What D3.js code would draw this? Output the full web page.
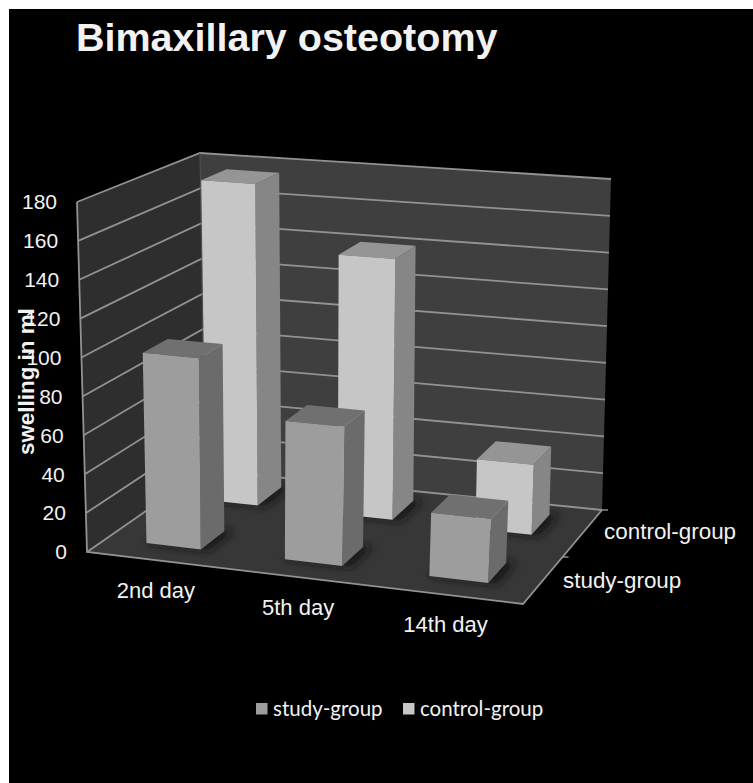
<!DOCTYPE html>
<html>
<head>
<meta charset="utf-8">
<title>Bimaxillary osteotomy</title>
<script src="https://cdn.jsdelivr.net/npm/d3@7"></script>
<style>
  html, body { margin: 0; padding: 0; background: #fff; }
  svg { display: block; }
  text { fill: #f2f2f2; font-family: "Liberation Sans", Arial, sans-serif; }
</style>
</head>
<body>
<script>
// values
var days = ["2nd day", "5th day", "14th day"];
var groups = ["study-group", "control-group"];
var studyValues = [99, 71, 32];
var controlValues = [175, 140, 37];
var yTicks = [0, 20, 40, 60, 80, 100, 120, 140, 160, 180];

var width = 753, height = 783;

var svg = d3.select("body").append("svg").attr("width", width).attr("height", height);

// black slide on a white page
svg.append("rect").attr("x", 9).attr("y", 9).attr("width", width - 9).attr("height", height - 9).attr("fill", "#000");

// corners of the 3d box on screen: f/b = front/back, l/r = left/right, 0/1 = floor/top
var box = {
  fl0: [87, 552], fr0: [523, 604], bl0: [205, 470], br0: [602, 510],
  fl1: [77, 202], fr1: [541, 239], bl1: [200, 153], br1: [611, 179]
};

function mix(a, b, t) { return [a[0] + (b[0] - a[0]) * t, a[1] + (b[1] - a[1]) * t]; }

// bars get a little wider apart to the right, the camera stands closer there
var uWarp = d3.scalePow().exponent(1.05).domain([0, 1]).range([0, 1]);

// u goes along the days, v into the depth, w upwards, all 0..1
function project(u, v, w) {
  var t = uWarp(u);
  var floor = mix(mix(box.fl0, box.fr0, t), mix(box.bl0, box.br0, t), v);
  var top = mix(mix(box.fl1, box.fr1, t), mix(box.bl1, box.br1, t), v);
  return mix(floor, top, w);
}

var xBand = d3.scaleBand().domain(days).range([0, 1]).paddingInner(0.599).paddingOuter(0.32).align(0.495);
var zBand = d3.scaleBand().domain(groups).range([0, 1]).paddingInner(0.587).paddingOuter(0.255).align(0.623);
var yScale = d3.scaleLinear().domain([0, 180]).range([0, 1]);

var line = d3.line();
function poly(points) { return line(points) + "Z"; }

var defs = svg.append("defs");
defs.append("filter").attr("id", "soft").attr("x", "-30%").attr("y", "-30%").attr("width", "160%").attr("height", "160%")
  .append("feGaussianBlur").attr("stdDeviation", 4);
defs.append("clipPath").attr("id", "floorClip").append("path")
  .attr("d", poly([box.fl0, box.fr0, box.br0, box.bl0]));

var chart = svg.append("g");

// walls and floor
chart.append("path").attr("d", poly([box.bl0, box.br0, box.br1, box.bl1])).attr("fill", "#3f3f3f");
chart.append("path").attr("d", poly([box.fl0, box.bl0, box.bl1, box.fl1])).attr("fill", "#2e2e2e");
chart.append("path").attr("d", poly([box.fl0, box.fr0, box.br0, box.bl0])).attr("fill", "#373737");

// gridlines: along the left wall and the back wall
var gridColor = "#929292";
chart.selectAll(".grid").data(yTicks).enter().append("path")
  .attr("class", "grid")
  .attr("d", function(d) {
    var w = yScale(d);
    return line([project(0, 0, w), project(0, 1, w), project(1, 1, w)]);
  })
  .attr("fill", "none").attr("stroke", gridColor).attr("stroke-width", 1.8);

// box edges
chart.append("path").attr("d", line([box.fl1, box.fl0, box.fr0, box.br0]))
  .attr("fill", "none").attr("stroke", gridColor).attr("stroke-width", 1.8);
chart.append("path").attr("d", line([box.bl0, box.bl1]))
  .attr("fill", "none").attr("stroke", "#555").attr("stroke-width", 1);

// little ticks on the depth axis
chart.selectAll(".ztick").data([0.5, 1]).enter().append("path")
  .attr("class", "ztick")
  .attr("d", function(d) {
    var p = project(1, d, 0);
    return line([p, [p[0] + 6, p[1]]]);
  })
  .attr("stroke", gridColor).attr("stroke-width", 1.4);

// one row of bars per group, back row first
var colors = {
  "study-group": { front: "#9d9d9d", top: "#707070", side: "#6b6b6b" },
  "control-group": { front: "#c6c6c6", top: "#959595", side: "#868686" }
};
var rows = [
  { group: "control-group", values: controlValues },
  { group: "study-group", values: studyValues }
];

rows.forEach(function(row) {
  var c = colors[row.group];
  var v0 = zBand(row.group), v1 = v0 + zBand.bandwidth();

  row.values.forEach(function(value, i) {
    var u0 = xBand(days[i]), u1 = u0 + xBand.bandwidth();
    var w = yScale(value);
    var g = chart.append("g").attr("class", "bar");

    // shadow on the floor
    chart.insert("g", ".bar").attr("clip-path", "url(#floorClip)").append("path")
      .attr("d", poly([project(u0, v0, 0), project(u1 + 0.02, v0, 0),
                       project(u1 + 0.02, v1 + 0.01, 0), project(u0, v1 + 0.01, 0)]))
      .attr("fill", "#161616").attr("filter", "url(#soft)");

    g.append("path").attr("fill", c.side)
      .attr("d", poly([project(u1, v0, 0), project(u1, v1, 0), project(u1, v1, w), project(u1, v0, w)]));
    g.append("path").attr("fill", c.top)
      .attr("d", poly([project(u0, v0, w), project(u1, v0, w), project(u1, v1, w), project(u0, v1, w)]));
    g.append("path").attr("fill", c.front)
      .attr("d", poly([project(u0, v0, 0), project(u1, v0, 0), project(u1, v0, w), project(u0, v0, w)]));
  });
});

// y tick labels follow the slanted front edge
svg.selectAll(".ytick").data(yTicks).enter().append("text")
  .attr("class", "ytick")
  .attr("x", function(d) { return project(0, 0, yScale(d))[0] - 20; })
  .attr("y", function(d) { return project(0, 0, yScale(d))[1]; })
  .attr("dy", "0.35em")
  .attr("text-anchor", "end")
  .attr("font-size", 21)
  .text(function(d) { return d; });

// day labels hang under the front edge
svg.selectAll(".day").data(days).enter().append("text")
  .attr("class", "day")
  .attr("x", function(d) { return project(xBand(d) + xBand.bandwidth() / 2, 0, 0)[0] + 1; })
  .attr("y", function(d) { return project(xBand(d) + xBand.bandwidth() / 2, 0, 0)[1] + 30; })
  .attr("dy", "0.35em")
  .attr("text-anchor", "middle")
  .attr("font-size", 22)
  .text(function(d) { return d; });

// group labels next to the right floor edge
svg.selectAll(".group").data(groups).enter().append("text")
  .attr("class", "group")
  .attr("x", function(d) { return project(1, zBand(d) + zBand.bandwidth() / 2, 0)[0] + 18.5; })
  .attr("y", function(d) { return project(1, zBand(d) + zBand.bandwidth() / 2, 0)[1] + 2; })
  .attr("dy", "0.35em")
  .attr("font-size", 22.4)
  .text(function(d) { return d; });

// title and axis title
svg.append("text").attr("x", 76).attr("y", 51)
  .attr("font-size", 39.5).attr("font-weight", "bold").attr("fill", "#fff")
  .text("Bimaxillary osteotomy");
svg.append("text").attr("transform", "translate(34,455) rotate(-90)")
  .attr("font-size", 22.4).attr("font-weight", "bold").attr("fill", "#fff")
  .text("swelling in ml");

// legend
var legendX = d3.scaleOrdinal().domain(groups).range([256, 403]);
var legend = svg.selectAll(".legend").data(groups).enter().append("g")
  .attr("class", "legend")
  .attr("transform", function(d) { return "translate(" + legendX(d) + ",703)"; });
legend.append("rect").attr("width", 11.5).attr("height", 11.5)
  .attr("fill", function(d) { return colors[d].front; });
legend.append("text").attr("x", 17).attr("y", 5.5).attr("dy", "0.35em")
  .attr("font-size", 20.5).style("font-family", "Lato, sans-serif")
  .text(function(d) { return d; });
</script>
</body>
</html>
